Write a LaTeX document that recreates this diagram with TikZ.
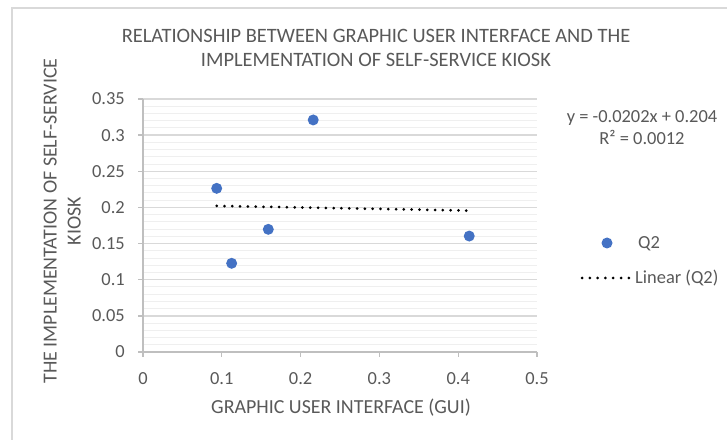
\documentclass[tikz,border=0pt]{standalone}
\usepackage{fontspec}
\setmainfont{Carlito}
\definecolor{txt}{HTML}{595959}
\definecolor{majorc}{HTML}{D9D9D9}
\definecolor{minorc}{HTML}{EFEFEF}
\definecolor{axisc}{HTML}{BFBFBF}
\definecolor{dotc}{HTML}{4472C4}
\begin{document}
\begin{tikzpicture}[x=1bp,y=-1bp,
  lbl/.style={text=txt, font=\fontsize{18.5}{22}\selectfont, inner sep=0pt},
  axtitle/.style={text=txt, font=\fontsize{20}{24}\selectfont, inner sep=0pt, anchor=base},
  charttitle/.style={text=txt, font=\fontsize{20.5}{24}\selectfont, inner sep=0pt, anchor=base},
  pt/.style={circle, fill=dotc, draw=none, minimum size=11bp, inner sep=0pt},
  trend/.style={black, line width=3bp, line cap=round, dash pattern=on 0pt off 7.8bp},
  gridminor/.style={minorc, line width=1bp},
  gridmajor/.style={majorc, line width=1.3bp},
  axisline/.style={axisc, line width=1.3bp}]
\useasboundingbox (0,0) rectangle (727,440);
\fill[white] (0,0) rectangle (727,440);
\draw[majorc, line width=2bp] (12,441) -- (12,8) -- (728,8);

\begin{scope}[shift={(143,352)}, x=788bp, y=722.86bp]
  \foreach \i in {1,...,35} \draw[gridminor] (0,\i/100) -- (0.5,\i/100);
  \foreach \i in {1,...,7} \draw[gridmajor] (0,\i*0.05) -- (0.5,\i*0.05);
  \coordinate (o) at (0,0);
  \coordinate (xe) at (0.5,0);
  \coordinate (ye) at (0,0.35);
  \draw[axisline] (o) -- (xe);
  \draw[axisline] (o) -- (ye);
  \foreach \v/\t in {0/0,0.1/0.1,0.2/0.2,0.3/0.3,0.4/0.4,0.5/0.5} {
    \draw[axisline] (\v,0) -- ++(0,-5bp);
    \path (\v,0) ++(0,-32bp) node[lbl, anchor=base] (xt\t) {\t};
  }
  \foreach \v/\t in {0/0,0.05/0.05,0.1/0.1,0.15/0.15,0.2/0.2,0.25/0.25,0.3/0.3,0.35/0.35} {
    \draw[axisline] (0,\v) -- ++(-5bp,0);
    \path (0,\v) ++(-18bp,0) node[lbl, anchor=east] (yt\t) {\t};
  }
  \coordinate (t1) at (0.0935,0.2021);
  \coordinate (t2) at (0.414,0.1956);
  \draw[trend] (t1) -- (t2);
  \node[pt] (p1) at (0.0935,0.2264) {};
  \node[pt] (p2) at (0.1125,0.1227) {};
  \node[pt] (p3) at (0.159,0.1697) {};
  \node[pt] (p4) at (0.216,0.321) {};
  \node[pt] (p5) at (0.414,0.1604) {};
\end{scope}

\node[charttitle] (title1) at (376,43) {RELATIONSHIP BETWEEN GRAPHIC USER INTERFACE AND THE};
\node[charttitle] (title2) at (376,67) {IMPLEMENTATION OF SELF-SERVICE KIOSK};

\node[axtitle] (xtitle) at (341,413) {GRAPHIC USER INTERFACE (GUI)};
\node[axtitle, rotate=90] (ytitle1) at (56.5,221) {THE IMPLEMENTATION OF SELF-SERVICE};
\node[axtitle, rotate=90] (ytitle2) at (80.5,221) {KIOSK};

\node[lbl, anchor=base] (eq1) at (642,123) {y = -0.0202x + 0.204};
\node[lbl, anchor=base] (eq2) at (642,145) {R² = 0.0012};

\node[pt] (lgdot) at (607,243) {};
\node[lbl, anchor=base west] (lgq) at (638,249) {Q2};
\coordinate (la) at (582,278);
\coordinate (lb) at (629,278);
\draw[trend] (la) -- (lb);
\node[lbl, anchor=base west] (lglin) at (635,284) {Linear (Q2)};
\end{tikzpicture}
\end{document}
